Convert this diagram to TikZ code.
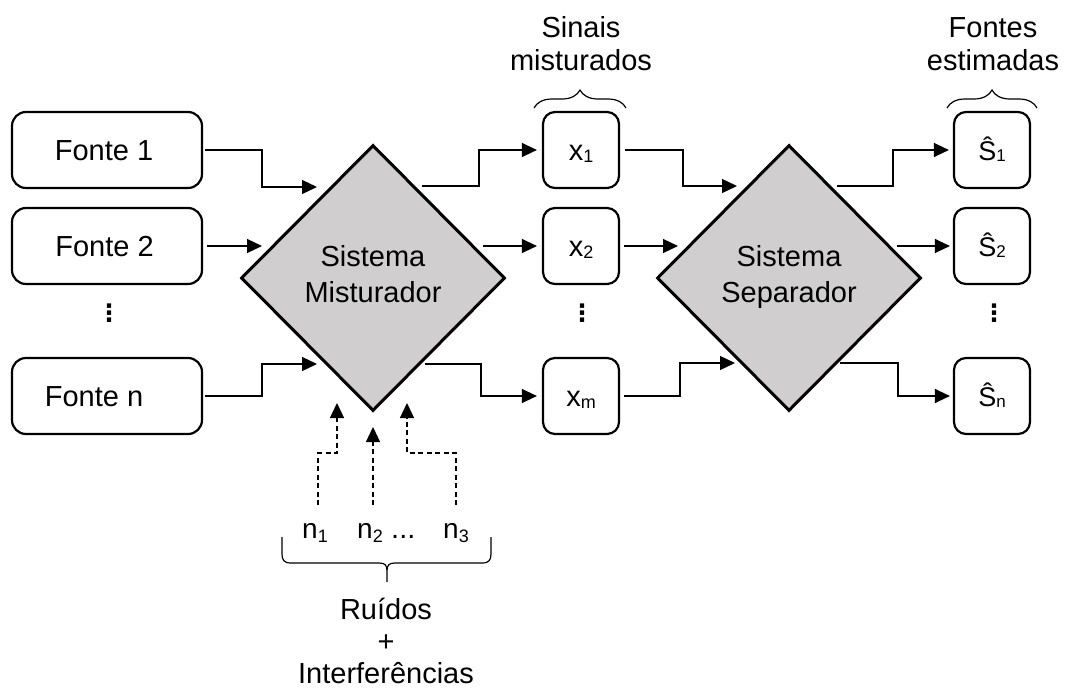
\documentclass[tikz,border=0pt]{standalone}
\usepackage{fontspec}
\setmainfont{Liberation Sans}
\newfontfamily\symfont{DejaVu Sans}
\usetikzlibrary{shapes.geometric,arrows.meta,calc,decorations.pathreplacing}

\definecolor{blockgray}{RGB}{208,206,206}

% symbols with small lowered indices
\newcommand\sigx[1]{{\fontsize{29}{30}\selectfont x\raisebox{-2pt}{\fontsize{18}{18}\selectfont #1}}}
\newcommand\sest[1]{{\fontsize{27}{30}\selectfont Ŝ\raisebox{-1pt}{\fontsize{17}{17}\selectfont #1}}}
\newcommand\noisen[1]{{\fontsize{28}{30}\selectfont n\raisebox{-4pt}{\fontsize{18}{18}\selectfont #1}}}
% vertical ellipsis
\newcommand\vdotsthree{{\symfont\bfseries\fontsize{24}{24}\selectfont ⋮}}

\begin{document}
\begin{tikzpicture}[x=1pt,y=-1pt,
  every node/.style={font=\fontsize{29}{33}\selectfont, inner sep=0pt},
  srcbox/.style={draw, line width=2.2pt, rounded corners=14pt,
    minimum width=190pt, minimum height=76pt, text height=20pt, text depth=0pt},
  sigbox/.style={srcbox, minimum width=76pt, rounded corners=12pt},
  block/.style={diamond, draw, line width=3pt, fill=blockgray, aspect=1,
    minimum width=264pt, minimum height=266pt, align=center, text depth=9pt,
    font=\fontsize{29}{36}\selectfont},
  arr/.style={line width=1.3pt, -{Triangle[length=15pt,width=14pt]}},
  noisearr/.style={arr, dash pattern=on 5pt off 3.5pt},
  bracket/.style={line width=1.2pt},
  caption/.style={align=center, anchor=base}
]
\useasboundingbox (0,0) rectangle (1066,691);

% sources
\node[srcbox] (f1) at (107,150) {Fonte 1\hspace*{6pt}};
\node[srcbox] (f2) at (107,246) {Fonte 2\hspace*{5pt}};
\node (fdots) at (109,313) {\vdotsthree};
\node[srcbox] (fn) at (107,396) {Fonte n\hspace*{26pt}};

% mixing and separating blocks
\node[block] (mix) at (373,278) {Sistema\\Misturador};
\node[block] (sep) at (789,278) {Sistema\\Separador};

% mixed signals
\node[sigbox] (x1) at (581,150) {\sigx{1}};
\node[sigbox] (x2) at (581,246) {\sigx{2}};
\node (xdots) at (582,313) {\vdotsthree};
\node[sigbox] (xm) at (581,396) {\sigx{m}};

% estimated sources
\node[sigbox] (s1) at (992,150) {\sest{1}};
\node[sigbox] (s2) at (992,246) {\sest{2}};
\node (sdots) at (994,313) {\vdotsthree};
\node[sigbox] (sn) at (992,396) {\sest{n}};

% group captions (anchored at the last line's baseline)
\node[caption] (capmix) at (581,70) {Sinais\\misturados};
\node[caption] (capest) at (993,70) {Fontes\\estimadas};
\node[caption, font=\fontsize{29}{32}\selectfont] (capnoise) at (386,683) {Ruídos\\+\\Interferências};

% noise sources
\node[anchor=base west] (n1) at (302,538) {\noisen{1}};
\node[anchor=base west] (n2) at (357,538) {\noisen{2}};
\node[anchor=base west] (ndots) at (391,538) {...};
\node[anchor=base west] (n3) at (443,538) {\noisen{3}};

% ports around the blocks
\coordinate (mix-in1)  at ($(mix.center)+(-56,-91)$);
\coordinate (mix-in2)  at ($(mix.center)+(-111,-32)$);
\coordinate (mix-in3)  at ($(mix.center)+(-56,86)$);
\coordinate (mix-out1) at ($(mix.center)+(49,-92)$);
\coordinate (mix-out2) at ($(mix.center)+(110,-32)$);
\coordinate (mix-out3) at ($(mix.center)+(52,86)$);
\coordinate (mix-nz1)  at ($(mix.center)+(-36,125)$);
\coordinate (mix-nz2)  at ($(mix.center)+(0,149)$);
\coordinate (mix-nz3)  at ($(mix.center)+(34,125)$);
\coordinate (sep-in1)  at ($(sep.center)+(-52,-92)$);
\coordinate (sep-in2)  at ($(sep.center)+(-111,-32)$);
\coordinate (sep-in3)  at ($(sep.center)+(-54,85)$);
\coordinate (sep-out1) at ($(sep.center)+(48,-92)$);
\coordinate (sep-out2) at ($(sep.center)+(108,-32)$);
\coordinate (sep-out3) at ($(sep.center)+(51,85)$);
\coordinate (nz1) at (318,505);
\coordinate (nz2) at (373,505);
\coordinate (nz3) at (456,505);

% sources into the mixer
\draw[arr, shorten <=2pt] (f1.east) -- ++(59,0) |- (mix-in1);
\draw[arr, shorten <=4pt] (f2.east) -- (mix-in2);
\draw[arr, shorten <=2pt] (fn.east) -- ++(59,0) |- (mix-in3);

% mixer to mixed signals
\draw[arr, shorten >=5pt] (mix-out1) -- ++(57,0) |- (x1.west);
\draw[arr, shorten >=5pt] (mix-out2) -- (x2.west);
\draw[arr, shorten >=5pt] (mix-out3) -- ++(56,0) |- (xm.west);

% mixed signals into the separator
\draw[arr, shorten <=5pt] (x1.east) -- ++(63,0) |- (sep-in1);
\draw[arr, shorten <=4pt] (x2.east) -- (sep-in2);
\draw[arr, shorten <=4pt] (xm.east) -- ++(60,0) |- (sep-in3);

% separator to estimates
\draw[arr, shorten >=4pt] (sep-out1) -- ++(56,0) |- (s1.west);
\draw[arr, shorten >=3pt] (sep-out2) -- (s2.west);
\draw[arr, shorten >=3pt] (sep-out3) -- ++(58,0) |- (sn.west);

% noise and interference
\draw[noisearr] (nz1) -- ++(0,-52) -| (mix-nz1);
\draw[noisearr] (nz2) -- (mix-nz2);
\draw[noisearr] (nz3) -- ++(0,-52) -| (mix-nz3);

% braces
\draw[bracket, decorate, decoration={brace, amplitude=18pt}] (534,108) -- (626,108);
\draw[bracket, decorate, decoration={brace, amplitude=18pt}] (947,108) -- (1037,108);
\draw[bracket] (282,537) -- (282,554) .. controls (282,560) and (284,563) .. (291,563)
  -- (379,563) .. controls (385,563) and (387,565) .. (387,571) -- (387,582)
  -- (387,571) .. controls (387,565) and (389,563) .. (395,563)
  -- (482,563) .. controls (489,563) and (491,560) .. (491,554) -- (491,537);
\end{tikzpicture}
\end{document}
